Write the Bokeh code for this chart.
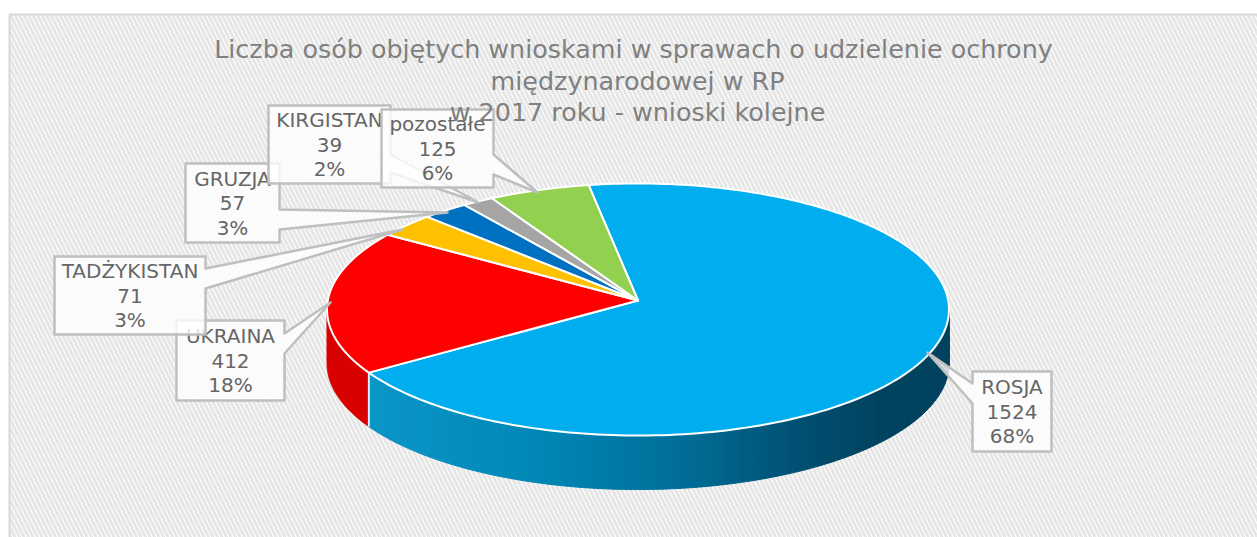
import numpy as np
from bokeh.plotting import figure
from bokeh.embed import file_html
from bokeh.resources import INLINE
from bokeh.core.properties import value

categories = ["ROSJA", "UKRAINA", "TADŻYKISTAN", "GRUZJA", "KIRGISTAN", "pozostałe"]
values = [1524, 412, 71, 57, 39, 125]
percents = ["68%", "18%", "3%", "3%", "2%", "6%"]
colors = ["#00AEEF", "#FF0000", "#FFC000", "#0070C0", "#A5A5A5", "#92D050"]
wall_colors = ["#00AEEF", "#D90000", "#D9A300", "#005FA3", "#8C8C8C", "#7CB144"]
title_lines = ["Liczba osób objętych wnioskami  w sprawach o udzielenie ochrony",
               "międzynarodowej w RP", "w 2017 roku - wnioski kolejne"]

# callout layout: box x0,x1,y0,y1, pointer tip, pointer base y0,y1, side
callouts = {
    "ROSJA": (972, 1051, 371, 451, (927, 352), (383, 403), "left"),
    "UKRAINA": (176, 284, 320, 400, (330, 302), (333, 353), "right"),
    "TADŻYKISTAN": (54, 205, 256, 334, (402, 229), (268, 288), "right"),
    "GRUZJA": (185, 279, 163, 242, (447, 212), (209, 229), "right"),
    "KIRGISTAN": (268, 390, 105, 183, (478, 202), (154, 172), "right"),
    "pozostałe": (381, 493, 109, 187, (537, 192), (154, 174), "right"),
}
draw_order = ["UKRAINA", "ROSJA", "TADŻYKISTAN", "GRUZJA", "KIRGISTAN", "pozostałe"]

W, H = 1257, 537
p = figure(width=W, height=H, x_range=(0, W), y_range=(H, 0),
           output_backend="svg", toolbar_location=None, min_border=0,
           outline_line_color=None)
p.axis.visible = False
p.grid.visible = False
p.background_fill_color = "white"
p.border_fill_color = "white"

# chart area
p.quad(left=[9], right=[1300], top=[14], bottom=[600], fill_color="#ffffff",
       line_color="#d9d9d9", line_width=2, hatch_pattern="left_diagonal_line",
       hatch_color="#e6e6e6", hatch_scale=9, hatch_weight=3)

# pie geometry: a disc under a slight perspective
ax, ay = 637.5, 300.0   # centre of the disc on screen (apex of slices)
R, S, k = 310.2, 125.4, 0.0714
depth = 54.0
start = -9.8
total = sum(values)
edges = start + np.concatenate([[0], np.cumsum(values)]) * 360.0 / total


def rim(deg):
    t = np.radians(deg)
    d = 1 + k * np.cos(t)
    return ax + R * np.sin(t) / d, ay - S * np.cos(t) / d


def lerp_hex(stops, f):
    xs = [s[0] for s in stops]
    rgb = [np.interp(f, xs, [int(s[1][i:i + 2], 16) for s in stops]) for i in (1, 3, 5)]
    return "#%02x%02x%02x" % tuple(int(round(c)) for c in rgb)


grad = [(0.0, "#0A96C8"), (0.30, "#0086B4"), (0.55, "#006C96"), (0.75, "#004E70"), (0.88, "#00435F"), (1.0, "#00435F")]

# side walls
for i, cat in enumerate(categories):
    a0, a1 = edges[i], edges[i + 1]
    lo, hi = max(a0, 94.0), min(a1, 266.0)
    if hi <= lo:
        continue
    if cat == "ROSJA":
        n = 150
        aa = np.linspace(lo, hi, n + 1)
        xs, ys, cs = [], [], []
        for j in range(n):
            seg = np.linspace(aa[j], aa[j + 1], 3)
            x, y = rim(seg)
            xs.append(np.concatenate([x, x[::-1]]))
            ys.append(np.concatenate([y, y[::-1] + depth]))
            cs.append(lerp_hex(grad, (x.mean() - 370.0) / (948.5 - 370.0)))
        p.patches(xs, ys, fill_color=cs, line_color=cs, line_width=1)
    else:
        aa = np.linspace(lo, hi, 120)
        x, y = rim(aa)
        p.patch(np.concatenate([x, x[::-1]]), np.concatenate([y, y[::-1] + depth]),
                fill_color=wall_colors[i], line_color=wall_colors[i], line_width=1)

# vertical cut between the two visible walls
ex, ey = rim(edges[1])
p.line([ex, ex], [ey, ey + depth], line_color="#e6f0f4", line_width=2)

# top face
for i, cat in enumerate(categories):
    aa = np.linspace(edges[i], edges[i + 1], 200)
    x, y = rim(aa)
    p.patch(np.concatenate([[ax], x, [ax]]), np.concatenate([[ay], y, [ay]]),
            fill_color=colors[i], line_color="white", line_width=2, line_join="round")

# callouts
for cat in draw_order:
    i = categories.index(cat)
    x0, x1, y0, y1, tip, base, side = callouts[cat]
    if side == "right":
        xs = [x0, x1, x1, tip[0], x1, x1, x0]
        ys = [y0, y0, base[0], tip[1], base[1], y1, y1]
    else:
        xs = [x0, x1, x1, x0, x0, tip[0], x0]
        ys = [y0, y0, y1, y1, base[1], tip[1], base[0]]
    p.patch(xs, ys, fill_color="white", fill_alpha=0.8, line_color="#bfbfbf", line_width=2.5,
            line_join="round")
    yc = (y0 + y1) / 2
    for t, yy in zip([cat, str(values[i]), percents[i]], [yc - 24.5, yc, yc + 24.5]):
        p.text([(x0 + x1) / 2], [yy], text=[t], text_align="center", text_baseline="middle",
               text_color="#666666", text_font=value("DejaVu Sans"), text_font_size="20px")

# title sits above the callouts
for line, yy in zip(title_lines, [48, 80, 111]):
    p.text([637], [yy], text=[line], text_align="center", text_baseline="middle",
           text_color="#808080", text_font=value("DejaVu Sans"), text_font_size="25.4px")

open("out.html", "w").write(file_html(p, INLINE))
